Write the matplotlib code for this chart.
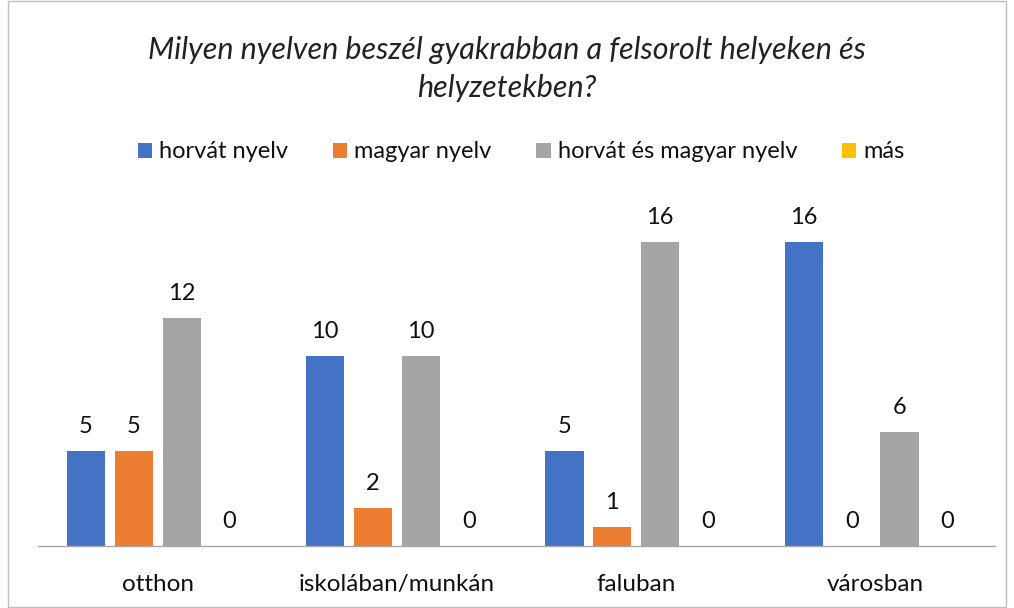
import numpy as np
import matplotlib.pyplot as plt
from matplotlib.patches import Rectangle

plt.rcParams['font.family'] = ['Lato', 'DejaVu Sans']

categories = ["otthon", "iskolában/munkán", "faluban", "városban"]
series_names = ["horvát nyelv", "magyar nyelv", "horvát és magyar nyelv", "más"]
horvat = [5, 10, 5, 16]
magyar = [5, 2, 1, 0]
mindketto = [12, 10, 16, 6]
mas = [0, 0, 0, 0]
colors = ["#4472C4", "#ED7D31", "#A5A5A5", "#FFC000"]

fig = plt.figure(figsize=(10.14, 6.08), dpi=100)
ax = fig.add_axes([0.0375, 0.102, 0.944, 0.562])

x = np.arange(len(categories))
width = 0.159
step = 0.2
offsets = [-1.5 * step, -0.5 * step, 0.5 * step, 1.5 * step]

handles = []
for vals, name, col, off in zip([horvat, magyar, mindketto, mas], series_names, colors, offsets):
    bars = ax.bar(x + off, vals, width, color=col, label=name)
    handles.append(bars)
    for xi, v in zip(x + off, vals):
        ax.text(xi, v + 0.75, str(v), ha="center", va="bottom", fontsize=17, color="#111111")

ax.set_xlim(-0.5, 3.5)
ax.set_ylim(0, 18)
ax.set_yticks([])
ax.set_xticks(x)
ax.set_xticklabels(categories, fontsize=17.5, color="#111111")
ax.tick_params(axis="x", length=0, pad=20)
for s in ["top", "right", "left"]:
    ax.spines[s].set_visible(False)
ax.spines["bottom"].set_color("#A6A6A6")
ax.spines["bottom"].set_linewidth(1.0)

fig.text(0.5, 0.887, "Milyen nyelven beszél gyakrabban a felsorolt helyeken és\nhelyzetekben?",
         ha="center", va="center", fontsize=22, style="italic", color="#222222", linespacing=1.45)

fig.legend(handles, series_names, loc="center", bbox_to_anchor=(0.514, 0.75), ncol=4,
           frameon=False, fontsize=17, handlelength=0.6, handleheight=0.6,
           handletextpad=0.3, columnspacing=1.9, labelcolor="#111111")

fig.patches.append(Rectangle((0.008, 0.002), 0.984, 0.996, transform=fig.transFigure,
                             fill=False, edgecolor="#BFBFBF", linewidth=1.0))

fig.savefig("out.png", dpi=100)
